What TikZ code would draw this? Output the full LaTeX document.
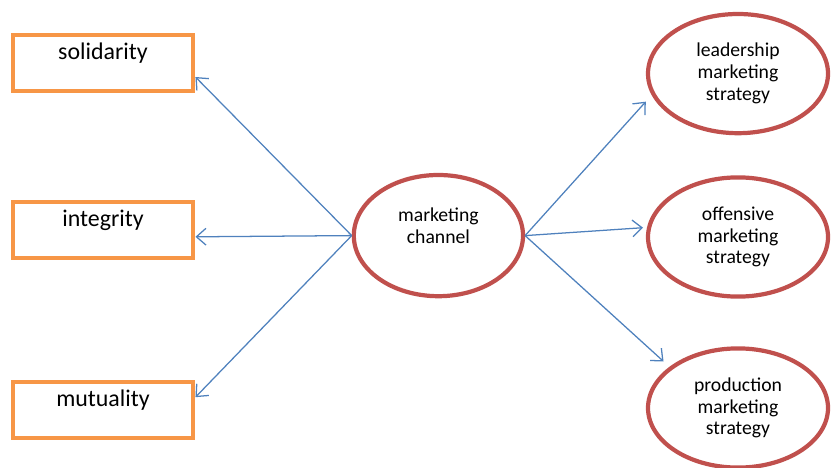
\documentclass[tikz,border=0pt]{standalone}
\usepackage{fontspec}
\setmainfont{Carlito}
\usepackage{xcolor}
\usetikzlibrary{arrows.meta,positioning,shapes.geometric}

\definecolor{boxorange}{HTML}{F79646}
\definecolor{ovalred}{HTML}{C0504D}
\definecolor{wireblue}{HTML}{4F81BD}

\begin{document}
\begin{tikzpicture}[
    >={Straight Barb[length=2.4mm,width=4.2mm]},
    value/.style   ={draw=boxorange, line width=3.2pt, minimum width=4.51cm,
                     inner xsep=0pt, inner ysep=0pt, text height=0.62cm,
                     text depth=0.78cm, fontsize=17},
    hub/.style     ={ellipse, draw=ovalred, line width=3pt, inner sep=0pt,
                     minimum width=4.23cm, minimum height=3.03cm, align=center,
                     font=\fontsize{14}{15.5}\selectfont},
    strat/.style   ={hub, minimum width=4.5cm, minimum height=2.98cm},
    flow/.style    ={->, draw=wireblue, line width=0.9pt},
    fontsize/.style={font=\fontsize{#1}{#1}\selectfont}
]
\useasboundingbox (0,0) rectangle (20.825,-11.7);

% --- Values on the left column. ---
\node[value] (solid) at (2.575,-1.575) {solidarity};
\node[value] (integ) at (2.575,-5.75)  {integrity};
\node[value] (mutu)  at (2.575,-10.25) {mutuality};

% --- Marketing channel in the middle (text sits a bit high). ---
\node[hub, text depth=0.5cm] (chan) at (10.96,-5.89) {marketing\\channel};

% --- Strategies on the right column. ---
\node[strat] (lead)  at (18.45,-1.84)  {leadership\\marketing\\strategy};
\node[strat] (offen) at (18.45,-5.925) {offensive\\marketing\\strategy};
\node[strat] (prod)  at (18.45,-10.2)  {production\\marketing\\strategy};

% --- Channel -> values. ---
\draw[flow] (chan.west) -- ([yshift=-0.35cm]solid.east);
\draw[flow] (chan.west) -- ([yshift=-0.17cm]integ.east);
\draw[flow] (chan.west) -- ([yshift= 0.32cm]mutu.east);

% --- Channel -> strategies (stop short of the rims). ---
\draw[flow, shorten >=0.22cm] (chan.east) -- (lead.194);
\draw[flow, shorten >=0.1cm]  (chan.east) -- (offen.174);
\draw[flow, shorten >=0.2cm]  (chan.east) -- (prod.149);

\end{tikzpicture}
\end{document}
